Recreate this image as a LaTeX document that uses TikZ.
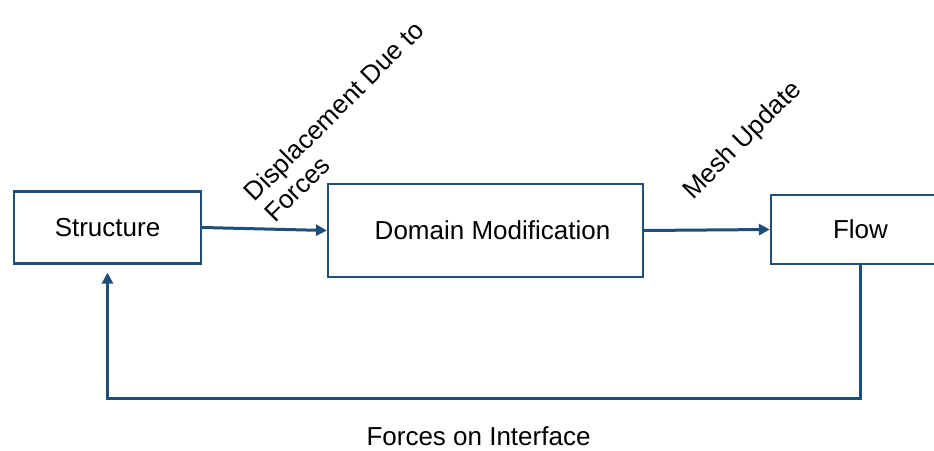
\documentclass[tikz,border=0pt]{standalone}
\usepackage{fontspec}
\setmainfont{Liberation Sans}
\usetikzlibrary{arrows.meta}
\definecolor{lineblue}{HTML}{1F4E79}
\tikzset{
  blockbox/.style={draw=lineblue, line width=2.2pt, fill=white, inner sep=0pt, text=black,
    font=\fontsize{26}{30}\selectfont},
  flowarrow/.style={draw=lineblue, line width=3pt, -{Triangle[width=11pt,length=11pt]}},
  lbl/.style={font=\fontsize{26}{29}\selectfont, text=black}
}
\begin{document}
\begin{tikzpicture}[x=1pt,y=1pt]
\useasboundingbox (0,0) rectangle (934,450);
\clip (0,0) rectangle (934,450);
\fill[white] (0,0) rectangle (934,450);
% boxes (pixel coords: y_tikz = 450 - y_px)
\node[blockbox, minimum width=187pt, minimum height=72pt] (s) at (107.5,222.5) {Structure};
\node[blockbox, minimum width=315pt, minimum height=93pt] (d) at (485.5,219.5) {\hspace*{14pt}Domain Modification};
\node[blockbox, minimum width=179pt, minimum height=69pt] (f) at (860.5,220.5) {Flow};
% arrows
\draw[flowarrow] (s.east) -- (d.west);
\draw[flowarrow] (d.east) -- (f.west);
\coordinate (c1) at (860.5,52);
\draw[flowarrow, shorten >=8pt] (f.south) -- (c1) -| (s.south);
% labels
\node[lbl, rotate=45, align=left] (l1) at (344,329) {Displacement Due to\\Forces};
\node[lbl, rotate=45] (l2) at (743,309) {Mesh Update};
\node[lbl] (l3) at (478.5,14) {Forces on Interface};
\end{tikzpicture}
\end{document}
